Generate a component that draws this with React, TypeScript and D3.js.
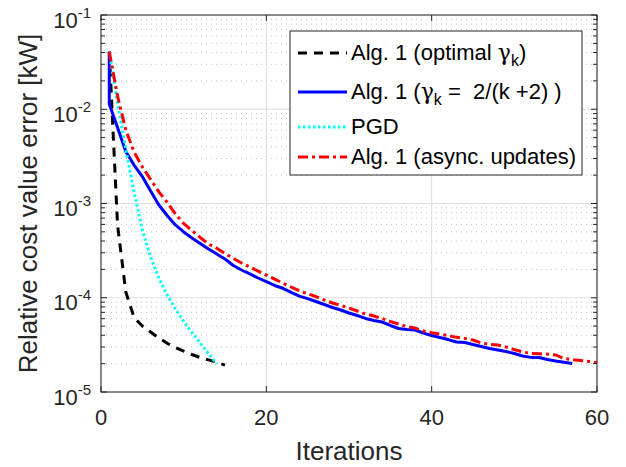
import React from "react";
import * as d3 from "d3";

const xTicks = [0, 20, 40, 60];
const yDecades = [-5, -4, -3, -2, -1];

const iterBlack = [1, 2, 3, 4, 5, 6, 7, 8, 9, 10, 11, 12, 13, 14, 15];
const valBlack = [0.0408, 5.92e-4, 1.15e-4, 6.17e-5, 5.01e-5, 4.33e-5, 3.74e-5, 3.29e-5, 2.97e-5, 2.72e-5, 2.5e-5, 2.32e-5, 2.19e-5, 2.07e-5, 1.93e-5];

const iterBlue = [1, 1, 2, 3, 4, 5, 6, 7, 8, 9, 10, 11, 12, 13, 14, 15, 16, 17, 18, 19, 20, 21, 22, 23, 24, 25, 26, 27, 28, 29, 30, 31, 32, 33, 34, 35, 36, 37, 38, 39, 40, 41, 42, 43, 44, 45, 46, 47, 48, 49, 50, 51, 52, 53, 54, 55, 56, 57];
const valBlue = [0.0408, 0.01137,
  0.0064, 0.00356, 0.00256, 0.00193, 0.00136, 0.000964, 0.000746, 0.000592, 0.000499, 0.000431,
  0.000376, 0.000329, 0.000291, 0.000258, 0.00022, 0.000197, 0.000179, 0.000162, 0.000148, 0.000135,
  0.000126, 0.000114, 0.000104, 9.79e-5, 9.12e-5, 8.48e-5, 7.88e-5, 7.41e-5, 6.89e-5, 6.48e-5,
  6.03e-5, 5.74e-5, 5.53e-5, 5.08e-5, 4.72e-5, 4.6e-5, 4.55e-5, 4.23e-5, 3.97e-5, 3.78e-5,
  3.6e-5, 3.39e-5, 3.35e-5, 3.19e-5, 3.04e-5, 2.9e-5, 2.79e-5, 2.69e-5, 2.56e-5, 2.41e-5,
  2.33e-5, 2.32e-5, 2.21e-5, 2.13e-5, 2.07e-5, 2.01e-5];

const iterCyan = [1, 2, 3, 4, 5, 6, 7, 8, 9, 10, 11, 12, 13, 14];
const valCyan = [0.0408, 0.01165, 0.00379, 0.00132, 0.000524, 0.00027, 0.000162, 0.000107, 7.6e-5, 5.6e-5, 4.28e-5, 3.31e-5, 2.56e-5, 1.98e-5];

const iterRed = [1, 2, 3, 4, 5, 6, 7, 8, 9, 10, 11, 12, 13, 14, 15, 16, 17, 18, 19, 20, 21, 22, 23, 24, 25, 26, 27, 28, 29, 30, 31, 32, 33, 34, 35, 36, 37, 38, 39, 40, 41, 42, 43, 44, 45, 46, 47, 48, 49, 50, 51, 52, 53, 54, 55, 56, 57, 58, 59, 60];
const valRed = [0.0408, 0.01384, 0.00603, 0.00352, 0.00244, 0.0018, 0.00133, 0.00103, 0.000774, 0.000614,
  0.000517, 0.000436, 0.000372, 0.000335, 0.000295, 0.000262, 0.000234, 0.000212, 0.000192, 0.000174,
  0.000158, 0.000143, 0.00013, 0.000119, 0.00011, 0.000103, 9.46e-5, 8.8e-5, 8.27e-5, 7.79e-5,
  7.23e-5, 6.73e-5, 6.4e-5, 6.02e-5, 5.6e-5, 5.26e-5, 4.95e-5, 4.77e-5, 4.44e-5, 4.26e-5,
  4.12e-5, 3.97e-5, 3.8e-5, 3.7e-5, 3.56e-5, 3.31e-5, 3.19e-5, 3.15e-5, 3.0e-5, 2.82e-5,
  2.66e-5, 2.57e-5, 2.54e-5, 2.52e-5, 2.47e-5, 2.27e-5, 2.2e-5, 2.16e-5, 2.11e-5, 2.05e-5];

const FONT = "'Liberation Sans', Arial, Helvetica, sans-serif";
const GREEK = "'DejaVu Serif', 'Liberation Serif', serif";
const AX = "#262626";

export default function App() {
  const W = 626, H = 467;
  const L = 101, T = 15, R = 597, B = 392;
  const x = d3.scaleLinear().domain([0, 60]).range([L, R]);
  const y = d3.scaleLog().domain([1e-5, 1e-1]).range([B, T]);

  const line = (xs: number[], vs: number[]) =>
    d3.line<number>().x((_, i) => x(xs[i])).y((v) => y(v))(vs) || "";

  const minor: number[] = [];
  for (const d of yDecades.slice(0, 4)) for (let m = 2; m <= 9; m++) minor.push(m * Math.pow(10, d));

  const series = [
    { xs: iterBlack, vs: valBlack, color: "#000000", dash: "9,7", w: 3 },
    { xs: iterBlue, vs: valBlue, color: "#0000ff", dash: "", w: 3 },
    { xs: iterCyan, vs: valCyan, color: "#00ffff", dash: "2.5,2.5", w: 3 },
    { xs: iterRed, vs: valRed, color: "#ff0000", dash: "10,4,3,4", w: 3 },
  ];

  const legY = [53, 92, 127, 157];
  const lx0 = 298, lx1 = 347, tx = 351;
  const lfs = 22;

  return (
    <svg width={W} height={H} style={{ position: "absolute", left: 0, top: 0, background: "#fff" }} fontFamily={FONT}>
      <rect x={0} y={0} width={W} height={H} fill="#fff" />
      {minor.map((v, i) => (
        <line key={"mg" + i} x1={L} x2={R} y1={y(v)} y2={y(v)} stroke="#c2c2c2" strokeWidth={1} strokeDasharray="1,4" />
      ))}
      {yDecades.map((d) => (
        <line key={"yg" + d} x1={L} x2={R} y1={y(Math.pow(10, d))} y2={y(Math.pow(10, d))} stroke="#dedede" strokeWidth={1} />
      ))}
      {xTicks.map((t) => (
        <line key={"xg" + t} x1={x(t)} x2={x(t)} y1={T} y2={B} stroke="#dedede" strokeWidth={1} />
      ))}
      <g fill="none">
        {series.map((s, i) => (
          <path key={"s" + i} d={line(s.xs, s.vs)} stroke={s.color} strokeWidth={s.w} strokeDasharray={s.dash || undefined} strokeLinejoin="round" />
        ))}
      </g>
      <rect x={L} y={T} width={R - L} height={B - T} fill="none" stroke={AX} strokeWidth={1} />
      {xTicks.map((t) => (
        <g key={"xt" + t}>
          <line x1={x(t)} x2={x(t)} y1={B} y2={B - 6} stroke={AX} />
          <line x1={x(t)} x2={x(t)} y1={T} y2={T + 6} stroke={AX} />
          <text x={x(t)} y={425} textAnchor="middle" fontSize={22} fill={AX}>{t}</text>
        </g>
      ))}
      {yDecades.map((d) => (
        <g key={"yt" + d}>
          <line x1={L} x2={L + 6} y1={y(Math.pow(10, d))} y2={y(Math.pow(10, d))} stroke={AX} />
          <line x1={R} x2={R - 6} y1={y(Math.pow(10, d))} y2={y(Math.pow(10, d))} stroke={AX} />
          <text x={91} y={y(Math.pow(10, d)) + 12.5} textAnchor="end" fontSize={22} fill={AX}>
            10<tspan fontSize={15} dy={-10}>{String(d)}</tspan>
          </text>
        </g>
      ))}
      {minor.map((v, i) => (
        <g key={"mt" + i}>
          <line x1={L} x2={L + 4} y1={y(v)} y2={y(v)} stroke={AX} />
          <line x1={R} x2={R - 4} y1={y(v)} y2={y(v)} stroke={AX} />
        </g>
      ))}
      <text x={(L + R) / 2} y={460} textAnchor="middle" fontSize={26} fill={AX}>Iterations</text>
      <text transform={`translate(37,${(T + B) / 2}) rotate(-90)`} textAnchor="middle" fontSize={26} fill={AX}>
        Relative cost value error [kW]
      </text>
      <rect x={290} y={31} width={292} height={144} fill="#fff" stroke={AX} strokeWidth={1} />
      {series.map((s, i) => (
        <line key={"ll" + i} x1={lx0} x2={lx1} y1={legY[i]} y2={legY[i]} stroke={s.color} strokeWidth={s.w} strokeDasharray={s.dash || undefined} />
      ))}
      <text x={tx} y={legY[0] + 7} fontSize={lfs} fill="#000">
        Alg. 1 (optimal <tspan fontFamily={GREEK} fontSize={22}>γ</tspan><tspan fontSize={16} dy={6}>k</tspan><tspan dy={-6}>)</tspan>
      </text>
      <text x={tx} y={legY[1] + 7} fontSize={lfs} fill="#000" style={{ whiteSpace: "pre" }}>
        {"Alg. 1 ("}<tspan fontFamily={GREEK} fontSize={22}>γ</tspan><tspan fontSize={16} dy={6}>k</tspan><tspan dy={-6}>{" =  2/(k +2) )"}</tspan>
      </text>
      <text x={tx} y={legY[2] + 7} fontSize={lfs} fill="#000">PGD</text>
      <text x={tx} y={legY[3] + 7} fontSize={lfs} fill="#000">Alg. 1 (async. updates)</text>
    </svg>
  );
}
